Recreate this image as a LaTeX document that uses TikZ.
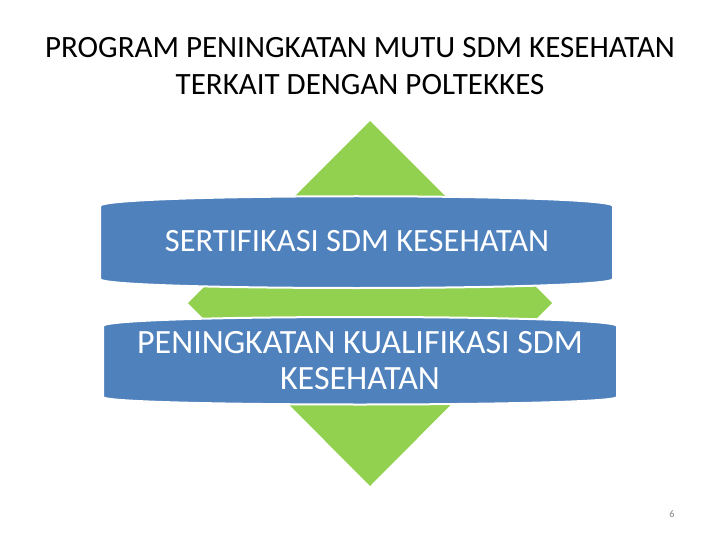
\documentclass[tikz,border=0pt]{standalone}
\usepackage{fontspec}
\setmainfont{Carlito}
\usepackage{tikz}
\usepackage{xcolor}

\definecolor{bannerblue}{RGB}{79,129,189}
\definecolor{diagreen}{RGB}{146,208,80}

\begin{document}
\begin{tikzpicture}[x=1pt, y=-1pt,
    banner/.style={fill=bannerblue, draw=white, line width=2pt, rounded corners=4pt},
    bannertext/.style={text=white, align=center, inner sep=0pt},
    titletext/.style={font=\fontsize{31}{37}\selectfont, align=center, inner sep=0pt}]

        \useasboundingbox (0,0) rectangle (720,540);

        % Title
        \node[titletext] (title) at (360,66) {PROGRAM PENINGKATAN MUTU SDM KESEHATAN\\TERKAIT DENGAN POLTEKKES};

        % Green diamond
        \coordinate (Dt) at (370,121);
        \coordinate (Dr) at (552,303);
        \coordinate (Db) at (370,486);
        \coordinate (Dl) at (188,303);
        \fill[diagreen] (Dt) -- (Dr) -- (Db) -- (Dl) -- cycle;

        % Upper banner
        \draw[banner] (100,210) .. controls (100,193) and (613,193) .. (613,210)
            -- (613,275) .. controls (613,291) and (100,291) .. (100,275) -- cycle;
        \node[bannertext, font=\fontsize{32.5}{36}\selectfont] (B1) at (357,241) {SERTIFIKASI SDM KESEHATAN};

        % Lower banner
        \draw[banner] (103,330) .. controls (103,314) and (617,314) .. (617,330)
            -- (617,393) .. controls (617,407) and (103,407) .. (103,393) -- cycle;
        \node[bannertext, font=\fontsize{34}{36}\selectfont] (B2) at (360,361) {PENINGKATAN KUALIFIKASI SDM\\KESEHATAN};

        % Page number
        \node[text=gray, font=\fontsize{10}{12}\selectfont, inner sep=0pt] (page) at (672,514) {6};

    \end{tikzpicture}
\end{document}
